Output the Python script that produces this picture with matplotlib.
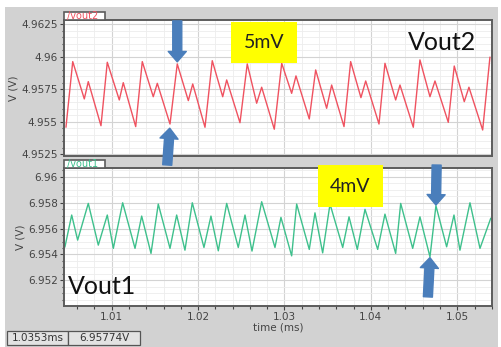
import matplotlib
matplotlib.use("Agg")
import matplotlib.pyplot as plt
from matplotlib.patches import Rectangle
from matplotlib.ticker import MultipleLocator, FixedLocator

t_vout2 = [1.00471, 1.00549, 1.00683, 1.00729, 1.00876, 1.00949, 1.01088, 1.01134,
           1.01278, 1.01354, 1.01481, 1.01528, 1.01675, 1.01759, 1.01887, 1.01938,
           1.02080, 1.02164, 1.02285, 1.02331, 1.02485, 1.02569, 1.02678, 1.02736,
           1.02882, 1.02968, 1.03083, 1.03133, 1.03287, 1.03361, 1.03488, 1.03546,
           1.03689, 1.03766, 1.03885, 1.03940, 1.04094, 1.04163, 1.04287, 1.04337,
           1.04491, 1.04568, 1.04684, 1.04742, 1.04896, 1.04965, 1.05081, 1.05135,
           1.05294, 1.05378]
v_vout2 = [4.95459, 4.95962, 4.95675, 4.95808, 4.95469, 4.95957, 4.95667, 4.95800,
           4.95462, 4.95962, 4.95692, 4.95795, 4.95482, 4.95944, 4.95662, 4.95790,
           4.95457, 4.95969, 4.95692, 4.95821, 4.95492, 4.95944, 4.95642, 4.95765,
           4.95442, 4.95949, 4.95718, 4.95852, 4.95521, 4.95898, 4.95603, 4.95782,
           4.95462, 4.95962, 4.95685, 4.95813, 4.95482, 4.95949, 4.95667, 4.95782,
           4.95457, 4.95975, 4.95692, 4.95813, 4.95495, 4.95928, 4.95654, 4.95765,
           4.95436, 4.95995]

t_vout1 = [1.00459, 1.00537, 1.00606, 1.00729, 1.00845, 1.00949, 1.01019, 1.01127,
           1.01270, 1.01347, 1.01455, 1.01539, 1.01675, 1.01752, 1.01848, 1.01933,
           1.02068, 1.02149, 1.02234, 1.02331, 1.02465, 1.02543, 1.02624, 1.02736,
           1.02890, 1.02959, 1.03083, 1.03141, 1.03287, 1.03353, 1.03442, 1.03527,
           1.03674, 1.03747, 1.03843, 1.03932, 1.04079, 1.04163, 1.04287, 1.04345,
           1.04484, 1.04568, 1.04684, 1.04753, 1.04877, 1.04962, 1.05031, 1.05147,
           1.05263, 1.05387]
v_vout1 = [6.95459, 6.95705, 6.95511, 6.95795, 6.95472, 6.95705, 6.95447, 6.95800,
           6.95447, 6.95697, 6.95408, 6.95790, 6.95447, 6.95705, 6.95433, 6.95800,
           6.95454, 6.95697, 6.95428, 6.95795, 6.95454, 6.95705, 6.95426, 6.95808,
           6.95454, 6.95687, 6.95389, 6.95790, 6.95439, 6.95722, 6.95412, 6.95790,
           6.95454, 6.95691, 6.95439, 6.95749, 6.95439, 6.95712, 6.95408, 6.95795,
           6.95447, 6.95691, 6.95381, 6.95777, 6.95459, 6.95705, 6.95433, 6.95800,
           6.95447, 6.95679]

x_ticks = [1.01, 1.02, 1.03, 1.04, 1.05]
y2_ticks = [4.9525, 4.955, 4.9575, 4.96, 4.9625]
y2_labels = ["4.9525", "4.955", "4.9575", "4.96", "4.9625"]
y1_ticks = [6.952, 6.954, 6.956, 6.958, 6.96]
y1_labels = ["6.952", "6.954", "6.956", "6.958", "6.96"]

cursor_time = "1.0353ms"
cursor_value = "6.95774V"

# ---- figure ----
W, H = 502, 347
def fx(x):
    return x / W
def fy(y):
    return 1 - y / H

red = "#ef5260"
green = "#3ec08c"
blue = "#4a7ebb"
frame = "#5c5c5c"
tick_col = "#444444"

fig = plt.figure(figsize=(W / 100, H / 100), dpi=100, facecolor="white")
fig.add_artist(Rectangle((fx(5), 0), fx(498) - fx(5), fy(7), transform=fig.transFigure,
                         facecolor="#d2d2d2", edgecolor="none", zorder=-10))

ax_top = fig.add_axes([fx(64), fy(156), (492 - 64) / W, (156 - 20) / H])
ax_bot = fig.add_axes([fx(64), fy(306), (492 - 64) / W, (306 - 168) / H])

ax_top.plot(t_vout2, v_vout2, color=red, lw=1.0)
ax_bot.plot(t_vout1, v_vout1, color=green, lw=1.0)

ax_top.set_ylim(4.95236, 4.96282)
ax_bot.set_ylim(6.95001, 6.96069)

for ax, yt, yl in [(ax_top, y2_ticks, y2_labels), (ax_bot, y1_ticks, y1_labels)]:
    ax.set_xlim(1.00448, 1.05402)
    ax.set_facecolor("white")
    ax.xaxis.set_major_locator(FixedLocator(x_ticks))
    ax.xaxis.set_minor_locator(MultipleLocator(0.002))
    ax.set_yticks(yt)
    ax.set_yticklabels(yl)
    ax.yaxis.set_minor_locator(MultipleLocator(0.0005))
    ax.grid(which="major", color="#d3d3d3", lw=0.8)
    ax.grid(which="minor", color="#ededed", lw=0.6)
    ax.set_axisbelow(True)
    for s in ax.spines.values():
        s.set_color(frame)
        s.set_linewidth(1.4)
    ax.tick_params(which="major", length=3, width=0.8, color=tick_col,
                   labelsize=7.5, labelcolor=tick_col, pad=1.5)
    ax.tick_params(which="minor", length=1.8, width=0.8, color=tick_col)
    ax.set_ylabel("V (V)", fontsize=7.5, color=tick_col, labelpad=2)

ax_top.tick_params(axis="x", which="both", bottom=False, labelbottom=False)
ax_bot.set_xticklabels(["1.01", "1.02", "1.03", "1.04", "1.05"])
ax_bot.set_xlabel("time (ms)", fontsize=7.5, color=tick_col, labelpad=0)

# ---- ripple arrows anchored on the waveform points ----
def arrow(ax, x, y, dx, dy, shrink):
    ax.annotate("", xy=(x, y), xytext=(dx, dy), textcoords="offset points",
                annotation_clip=False,
                arrowprops=dict(arrowstyle="simple,head_length=0.75,head_width=1.3,tail_width=0.65",
                                color=blue, shrinkA=0, shrinkB=shrink, mutation_scale=10))

arrow(ax_top, t_vout2[13], v_vout2[13], 0, 31, 1.5)
arrow(ax_top, t_vout2[12], v_vout2[12], -2, -29.5, 3)
arrow(ax_bot, t_vout1[43], v_vout1[43], 0.5, 29.3, 0.5)
arrow(ax_bot, t_vout1[42], v_vout1[42], -1.5, -28.8, 0.5)

# ---- overlays: tabs, yellow call-outs, labels ----
def tab(x0, y0, x1, y1, label, col):
    fig.add_artist(Rectangle((fx(x0), fy(y1)), fx(x1) - fx(x0), fy(y0) - fy(y1),
                             transform=fig.transFigure, facecolor="white",
                             edgecolor=frame, lw=1.2, zorder=4))
    fig.text(fx(x0 + 3), fy((y0 + y1) / 2 + 0.5), label, color=col, fontsize=7,
             va="center", ha="left", zorder=5)

tab(64, 12, 105, 20, "/vout2", red)
tab(64, 160, 105, 168, "/vout1", green)

def callout(x0, y0, x1, y1, label):
    fig.add_artist(Rectangle((fx(x0), fy(y1)), fx(x1) - fx(x0), fy(y0) - fy(y1),
                             transform=fig.transFigure, facecolor="#ffff00",
                             edgecolor="none", zorder=6))
    fig.text(fx((x0 + x1) / 2), fy((y0 + y1) / 2), label, fontsize=14, family="Lato",
             color="#222222", ha="center", va="center", zorder=7)

callout(231, 22, 297, 63, "5mV")
callout(318, 165, 383, 207, "4mV")

fig.text(fx(442), fy(42), "Vout2", fontsize=18, family="Lato", color="#111111",
         ha="center", va="center", zorder=7)
fig.text(fx(102), fy(287), "Vout1", fontsize=18, family="Lato", color="#111111",
         ha="center", va="center", zorder=7)

# ---- cursor readout boxes ----
for x0, x1, txt in [(7, 68, cursor_time), (68, 140, cursor_value)]:
    fig.add_artist(Rectangle((fx(x0), fy(345)), fx(x1) - fx(x0), fy(331) - fy(345),
                             transform=fig.transFigure, facecolor="#e2e2e2",
                             edgecolor="#555555", lw=0.9, zorder=4))
    fig.text(fx((x0 + x1) / 2), fy(338), txt, fontsize=7.5, color="#333333",
             ha="center", va="center", zorder=5)

fig.savefig("out.png", dpi=100)
